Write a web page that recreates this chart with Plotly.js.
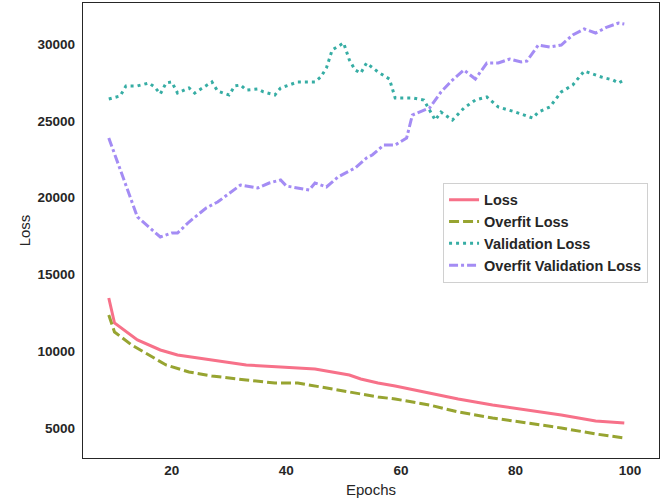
<!DOCTYPE html>
<html>
<head>
<meta charset="utf-8">
<script src="https://cdn.plot.ly/plotly-3.0.1.min.js"></script>
<style>html,body{margin:0;padding:0;background:#fff;}#chart{width:670px;height:502px;}</style>
</head>
<body>
<div id="chart"></div>
<script>
// Data
const lossEpochs = [9,10,14,18,21,27,33,39,45,48,51,53,56,59,65,70,76,82,88,94,99];
const lossValues = [13465,11837,10730,10079,9754,9428,9103,8973,8842,8647,8452,8191,7931,7736,7280,6889,6499,6173,5848,5457,5327];

const overfitEpochs = [9,10,13,16,19,23,27,33,38,42,46,51,56,59,65,70,76,82,88,94,99];
const overfitValues = [12358,11251,10405,9754,9103,8647,8387,8126,7931,7931,7671,7345,7020,6889,6499,6043,5653,5327,5002,4611,4351];

const valEpochs = [9,11,12,14,16,17,18,19,20,21,23,24,27,28,30,31,32,33,35,36,38,39,42,45,46,47,48,50,51,52,53,54,56,58,59,62,64,65,66,67,69,71,73,75,77,80,83,84,86,88,90,92,95,97,98,99];
const valValues = [26420,26620,27270,27270,27460,27200,26750,27460,27530,26810,27140,26810,27530,26940,26680,27270,27330,27000,27070,26880,26680,27140,27530,27530,27850,28440,29610,30070,28960,28310,28110,28760,28180,27720,26490,26490,26350,25700,25050,25570,25050,25830,26350,26550,25900,25570,25180,25570,25900,26880,27330,28240,27850,27660,27460,27660];

const ovEpochs = [9,11,14,18,20,21,23,26,28,32,34,35,37,39,40,44,45,47,49,52,54,55,57,59,61,62,65,67,69,71,73,75,77,79,81,82,84,86,88,90,92,94,96,98,99];
const ovValues = [23881,21797,18738,17436,17696,17696,18412,19324,19714,20821,20691,20626,20951,21146,20756,20495,20951,20691,21342,21928,22579,22774,23425,23425,23881,25378,25834,26875,27656,28307,27721,28763,28763,29023,28828,28893,29935,29805,29935,30586,30977,30716,31107,31367,31302];

const seriesNames = ["Loss","Overfit Loss","Validation Loss","Overfit Validation Loss"];
const xTicks = [20,40,60,80,100];
const yTicks = [5000,10000,15000,20000,25000,30000];

const colors = ["#f77189","#97a431","#36ada4","#a48cf4"];
const dashes = ["solid","10px,4px","3px,4px","9px,3px,3px,3px"];
const xs = [lossEpochs, overfitEpochs, valEpochs, ovEpochs];
const ys = [lossValues, overfitValues, valValues, ovValues];

const traces = seriesNames.map((n,i)=>({
  x: xs[i], y: ys[i], name: n, type: "scatter", mode: "lines",
  line: {color: colors[i], width: 3, dash: dashes[i]}
}));

const axisFont = {family: "Liberation Sans, Arial, sans-serif", size: 13.5, color: "#262626", weight: "bold"};
const layout = {
  width: 670, height: 502,
  margin: {l: 83, r: 11, t: 3, b: 44},
  paper_bgcolor: "#fff", plot_bgcolor: "#fff",
  showlegend: true,
  legend: {
    x: 0.981, xanchor: "right", y: 0.605, yanchor: "top",
    bgcolor: "rgba(255,255,255,0.8)", bordercolor: "#d0d0d0", borderwidth: 1,
    font: {family: "Liberation Sans, Arial, sans-serif", size: 14.5, color: "#262626", weight: "bold"}
  },
  xaxis: {
    range: [4.5, 105.06], tickvals: xTicks, ticktext: xTicks.map(String),
    showgrid: false, zeroline: false, showline: true, mirror: true,
    linecolor: "#262626", linewidth: 1.25, ticks: "", tickfont: axisFont,
    title: {text: "Epochs", font: {family: "Liberation Sans, Arial, sans-serif", size: 15, color: "#262626"}, standoff: 7}
  },
  yaxis: {
    range: [3047, 32670], tickvals: yTicks, ticktext: yTicks.map(String),
    showgrid: false, zeroline: false, showline: true, mirror: true,
    linecolor: "#262626", linewidth: 1.25, ticks: "", tickfont: axisFont, ticklabelstandoff: 4,
    title: {text: "Loss", font: {family: "Liberation Sans, Arial, sans-serif", size: 15, color: "#262626"}, standoff: 3}
  }
};
Plotly.newPlot("chart", traces, layout, {displayModeBar: false, staticPlot: true});
</script>
</body>
</html>
